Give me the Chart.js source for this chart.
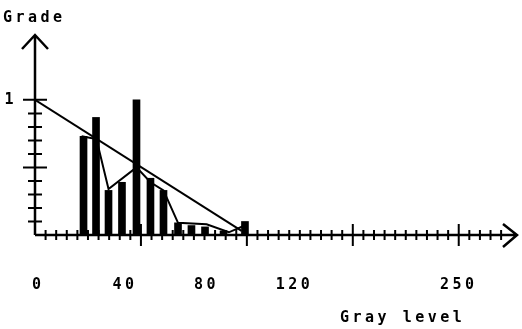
<!DOCTYPE html>
<html>
<head>
<meta charset="utf-8">
<script src="https://cdn.jsdelivr.net/npm/chart.js@4"></script>
<style>
  html, body { margin: 0; padding: 0; background: #fff; }
</style>
</head>
<body>
<canvas id="chart" width="522" height="329"></canvas>
<script>
// x positions are in axis steps (one minor tick on the gray level axis = 1)
const barX = [4.58, 5.76, 6.94, 8.21, 9.58, 10.9, 12.13, 13.5, 14.77, 16.05, 17.8, 19.82];
const barGrade = [0.73, 0.87, 0.33, 0.39, 1.0, 0.42, 0.33, 0.09, 0.07, 0.06, 0.03, 0.10];

// polyline following the histogram
const curveX = [4.4, 5.8, 6.94, 9.58, 10.9, 12.13, 13.5, 16.2, 18.3, 19.8];
const curveGrade = [0.73, 0.71, 0.34, 0.5, 0.39, 0.33, 0.09, 0.08, 0.02, 0.07];

// straight decreasing line
const lineX = [0, 19.5];
const lineGrade = [1, 0.03];

const xTickPos = [0.3, 8.5, 16.2, 24.5, 40];
const xTickLabels = ['0', '40', '80', '120', '250'];
const yTickPos = [1];
const yTickLabels = ['1'];

const xMinorCount = 44;
const yMinorCount = 10;

const FONT = { family: 'DejaVu Sans Mono', size: 15, weight: 'bold' };
const SPACING = '3.5px';

const toPoints = (xs, ys) => xs.map((v, i) => ({ x: v, y: ys[i] }));

// axis lines, arrow heads, tick marks and the x title
const axesPlugin = {
  id: 'axes',
  beforeLayout(chart) { chart.ctx.letterSpacing = SPACING; },
  beforeDraw(chart) { chart.ctx.letterSpacing = SPACING; },
  afterDraw(chart) {
    const { ctx, chartArea, scales: { x, y } } = chart;
    const x0 = x.getPixelForValue(0);
    const y0 = y.getPixelForValue(0);
    ctx.save();
    ctx.strokeStyle = '#000';
    ctx.lineWidth = 2.5;
    ctx.beginPath();
    ctx.moveTo(x0, y0); ctx.lineTo(x0, chartArea.top);
    ctx.moveTo(x0, y0); ctx.lineTo(chartArea.right, y0);
    ctx.moveTo(x0 - 13, chartArea.top + 14);
    ctx.lineTo(x0, chartArea.top);
    ctx.lineTo(x0 + 13, chartArea.top + 14);
    ctx.moveTo(chartArea.right - 14, y0 - 11);
    ctx.lineTo(chartArea.right, y0);
    ctx.lineTo(chartArea.right - 14, y0 + 12);
    ctx.stroke();

    ctx.lineWidth = 2;
    ctx.beginPath();
    for (let i = 1; i <= xMinorCount; i++) {
      const px = x.getPixelForValue(i);
      const h = i % 10 === 0 ? 11 : 5;
      ctx.moveTo(px, y0 - h); ctx.lineTo(px, y0 + h);
    }
    for (let i = 1; i <= yMinorCount; i++) {
      const py = y.getPixelForValue(i / 10);
      const w = i % 5 === 0 ? 12 : 7;
      ctx.moveTo(x0 - w, py); ctx.lineTo(x0 + w, py);
    }
    ctx.stroke();

    ctx.fillStyle = '#000';
    ctx.font = 'bold 15px "DejaVu Sans Mono"';
    ctx.letterSpacing = SPACING;
    ctx.textAlign = 'left';
    ctx.textBaseline = 'middle';
    ctx.fillText('Gray level', 340, 318);
    ctx.restore();
  }
};

new Chart(document.getElementById('chart'), {
  type: 'bar',
  data: {
    datasets: [
      {
        type: 'line',
        data: toPoints(lineX, lineGrade),
        borderColor: '#000',
        borderWidth: 2,
        pointRadius: 0,
        tension: 0
      },
      {
        type: 'line',
        data: toPoints(curveX, curveGrade),
        borderColor: '#000',
        borderWidth: 2,
        pointRadius: 0,
        tension: 0
      },
      {
        type: 'bar',
        data: toPoints(barX, barGrade),
        backgroundColor: '#000',
        borderWidth: 0,
        barThickness: 7
      }
    ]
  },
  options: {
    responsive: false,
    animation: false,
    layout: { padding: { left: 3, right: 5, top: 0, bottom: 0 } },
    plugins: {
      legend: { display: false },
      tooltip: { enabled: false },
      title: {
        display: true,
        text: 'Grade',
        align: 'start',
        color: '#000',
        font: FONT,
        padding: { top: 9, bottom: 8 }
      }
    },
    scales: {
      x: {
        type: 'linear',
        offset: false,
        min: 0,
        max: 45.5,
        grid: { display: false },
        border: { display: false },
        afterBuildTicks: (s) => { s.ticks = xTickPos.map((v) => ({ value: v })); },
        afterFit: (s) => { s.height = 94; s.paddingLeft = 0; s.paddingRight = 0; },
        ticks: {
          autoSkip: false,
          maxRotation: 0,
          padding: 33,
          color: '#000',
          font: FONT,
          callback: (v, i) => xTickLabels[i]
        }
      },
      y: {
        min: 0,
        max: 1.48,
        grid: { display: false, drawTicks: false },
        border: { display: false },
        afterBuildTicks: (s) => { s.ticks = yTickPos.map((v) => ({ value: v })); },
        afterFit: (s) => { s.width = 32; s.paddingTop = 0; s.paddingBottom = 0; },
        ticks: {
          padding: 18,
          color: '#000',
          font: FONT,
          callback: (v, i) => yTickLabels[i]
        }
      }
    }
  },
  plugins: [axesPlugin]
});
</script>
</body>
</html>
